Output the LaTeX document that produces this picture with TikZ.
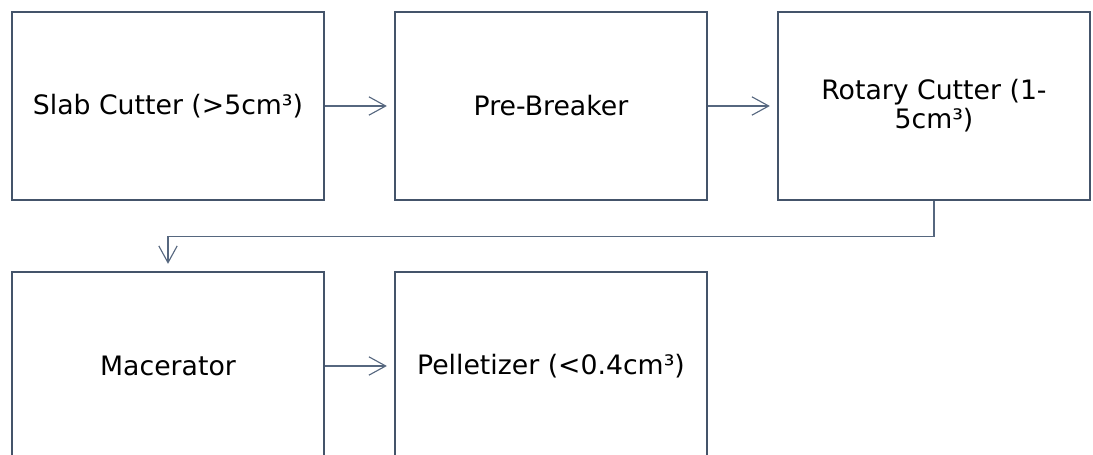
\documentclass[tikz,border=0pt]{standalone}
\usepackage{fontspec}
\setmainfont{DejaVu Sans}
\usepackage{tikz}
\usetikzlibrary{arrows.meta}
\definecolor{boxline}{HTML}{44546A}
\definecolor{flowline}{HTML}{56677F}

\begin{document}
\begin{tikzpicture}
        \tikzset{stage/.style = {shape=rectangle,draw=boxline,line width=1.9pt,minimum width=7.8cm,minimum height=4.7cm,align=center,font=\fontsize{19}{20.5}\selectfont}}
        \tikzset{flow/.style = {draw=flowline,line width=0.8pt,-{Straight Barb[length=0.42cm,width=0.46cm]},shorten >=0.17cm}}
        \useasboundingbox (0, 0) rectangle (27.325, 11.375);
        \node[stage] (a) at (4.2, 8.725) {Slab Cutter (>5cm³)};
        \node[stage] (b) at (13.775, 8.725) {Pre-Breaker};
        \node[stage] (c) at (23.35, 8.725) {Rotary Cutter (1-\\5cm³)};
        \node[stage] (d) at (4.2, 2.225) {Macerator};
        \node[stage] (e) at (13.775, 2.225) {Pelletizer (<0.4cm³)};
        \draw[flow] (a) to (b);
        \draw[flow] (b) to (c);
        \draw[flow] (c.south) -- ++(0, -0.875) -| (d.north);
        \draw[flow] (d) to (e);
      \end{tikzpicture}
\end{document}
